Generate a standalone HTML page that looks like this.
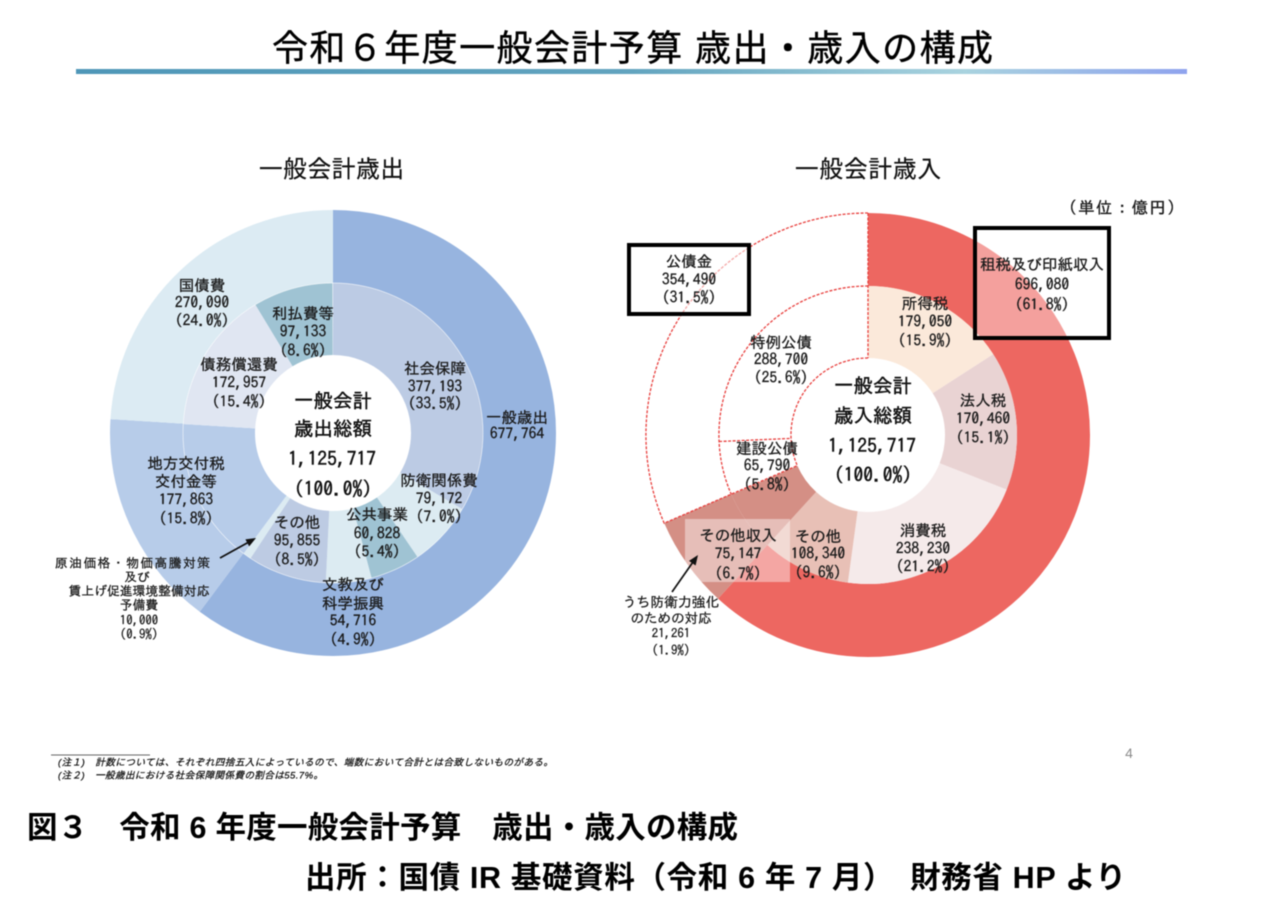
<!DOCTYPE html>
<html lang="ja">
<head>
<meta charset="utf-8">
<style>
html,body{margin:0;padding:0;background:#fff;width:1280px;height:908px;overflow:hidden}
svg{display:block;filter:blur(.55px)}
text{dominant-baseline:central;text-anchor:middle;fill:#1a1a1a;stroke:#1a1a1a;stroke-width:.3px;font-family:"IPAGothic","Noto Sans CJK JP",sans-serif;font-size:15.5px}
.c{font-size:19.5px;fill:#111;stroke:#111;stroke-width:.45px}
.s{font-size:12.8px;stroke-width:.25px}
.h{font-family:"Liberation Sans","Noto Sans CJK JP",sans-serif;font-size:23.5px;fill:#111;stroke:#111;stroke-width:.25px}
.t{font-family:"Liberation Sans","Noto Sans CJK JP",sans-serif;font-size:36px;fill:#000;stroke:#000;stroke-width:.4px;text-anchor:start}
.b{font-family:"Liberation Sans","Noto Sans CJK JP",sans-serif;font-weight:700;font-size:30.5px;fill:#000;stroke:none;text-anchor:start}
.n{font-family:"Liberation Sans","Noto Sans CJK JP",sans-serif;font-size:9.5px;font-style:italic;fill:#111;stroke:#111;stroke-width:.25px;text-anchor:start}
.d{fill:none;stroke:#e8413f;stroke-width:1.3;stroke-dasharray:3 1.5}
circle{fill:none}
</style>
</head>
<body>
<svg width="1280" height="908" viewBox="0 0 1280 908" xmlns="http://www.w3.org/2000/svg">
<defs>
<linearGradient id="g" x1="0" x2="1" y1="0" y2="0">
<stop offset="0" stop-color="#4f97b8"/>
<stop offset=".5" stop-color="#62a4bf"/>
<stop offset=".8" stop-color="#a9d3df"/>
<stop offset="1" stop-color="#8fa3ee"/>
</linearGradient>
</defs>

<text class="t" x="272" y="48" textLength="721" lengthAdjust="spacing">令和６年度一般会計予算 歳出・歳入の構成</text>
<rect x="76" y="69" width="1111" height="5" fill="url(#g)"/>

<text class="h" x="331.500" y="169" textLength="145" lengthAdjust="spacing">一般会計歳出</text>
<text class="h" x="868" y="169" textLength="146" lengthAdjust="spacing">一般会計歳入</text>

<!-- Left chart -->
<g transform="rotate(-90 333 433)">
<g stroke-width="73">
<circle cx="333" cy="433" r="186.5" pathLength="360" stroke="#97b4df" stroke-dasharray="216.7 360" stroke-dashoffset="0"/>
<circle cx="333" cy="433" r="186.5" pathLength="360" stroke="#b7cce9" stroke-dasharray="56.9 360" stroke-dashoffset="-216.7"/>
<circle cx="333" cy="433" r="186.5" pathLength="360" stroke="#dcebf3" stroke-dasharray="86.4 360" stroke-dashoffset="-273.6"/>
</g>
<g stroke-width="72">
<circle cx="333" cy="433" r="114" pathLength="360" stroke="#bccbe4" stroke-dasharray="120.6 360" stroke-dashoffset="0"/>
<circle cx="333" cy="433" r="114" pathLength="360" stroke="#dcebf2" stroke-dasharray="25.2 360" stroke-dashoffset="-120.6"/>
<circle cx="333" cy="433" r="114" pathLength="360" stroke="#9fc3d3" stroke-dasharray="19.4 360" stroke-dashoffset="-145.8"/>
<circle cx="333" cy="433" r="114" pathLength="360" stroke="#dcebf2" stroke-dasharray="17.7 360" stroke-dashoffset="-165.2"/>
<circle cx="333" cy="433" r="114" pathLength="360" stroke="#bdcbe3" stroke-dasharray="30.6 360" stroke-dashoffset="-182.9"/>
<circle cx="333" cy="433" r="114" pathLength="360" stroke="#dcebf2" stroke-dasharray="3.2 360" stroke-dashoffset="-213.5"/>
<circle cx="333" cy="433" r="114" pathLength="360" stroke="#b7cce9" stroke-dasharray="56.9 360" stroke-dashoffset="-216.7"/>
<circle cx="333" cy="433" r="114" pathLength="360" stroke="#e0e6f2" stroke-dasharray="55.4 360" stroke-dashoffset="-273.6"/>
<circle cx="333" cy="433" r="114" pathLength="360" stroke="#9fc3d3" stroke-dasharray="31 360" stroke-dashoffset="-329"/>
</g>
</g>
<circle cx="333" cy="433" r="150" stroke="#fff" stroke-width=".7" opacity=".7"/>
<line x1="220" y1="558" x2="248" y2="542.500" stroke="#111" stroke-width="1.700"/>
<polygon points="256,538 249.200,546.400 245.400,539.400" fill="#111"/>

<!-- Right chart -->
<g transform="rotate(-90 868 435)">
<g stroke-width="73">
<circle cx="868" cy="435" r="185.5" pathLength="360" stroke="#ed6761" stroke-dasharray="222.5 360" stroke-dashoffset="0"/>
<circle cx="868" cy="435" r="185.5" pathLength="360" stroke="#d48f85" stroke-dasharray="24.1 360" stroke-dashoffset="-222.5"/>
</g>
<g stroke-width="72">
<circle cx="868" cy="435" r="113" pathLength="360" stroke="#fbe9da" stroke-dasharray="57.2 360" stroke-dashoffset="0"/>
<circle cx="868" cy="435" r="113" pathLength="360" stroke="#e9d3d3" stroke-dasharray="54.4 360" stroke-dashoffset="-57.2"/>
<circle cx="868" cy="435" r="113" pathLength="360" stroke="#f5eaea" stroke-dasharray="76.3 360" stroke-dashoffset="-111.6"/>
<circle cx="868" cy="435" r="113" pathLength="360" stroke="#e8c0b6" stroke-dasharray="34.6 360" stroke-dashoffset="-187.9"/>
<circle cx="868" cy="435" r="113" pathLength="360" stroke="#d48f85" stroke-dasharray="24.1 360" stroke-dashoffset="-222.5"/>
</g>
</g>
<path class="d" d="M868 213A222 222 0 0 0 664.200 523.200L731.200 494.200L797.300 465.600"/>
<path class="d" d="M868 286A149 149 0 0 0 731.200 494.200"/>
<path class="d" d="M868 358A77 77 0 0 0 797.300 465.600"/>
<path class="d" d="M868 213V358"/>
<path class="d" d="M719.100 441.500L791.100 438.400"/>
<rect x="685" y="519" width="105" height="63" fill="#fff" opacity=".42"/>
<rect x="975" y="228" width="134" height="110" fill="#fff" fill-opacity=".38" stroke="#000" stroke-width="4"/>
<rect x="629" y="245" width="120" height="69" fill="#fff" fill-opacity=".55" stroke="#000" stroke-width="4"/>
<line x1="672" y1="592" x2="693" y2="562" stroke="#111" stroke-width="1.700"/>
<polygon points="698,555 695.600,565.500 689,560.900" fill="#111"/>

<!-- Left labels -->
<text x="202" y="285">国債費</text><text x="202" y="302">270,090</text><text x="202" y="320">(24.0%)</text>
<text x="303" y="313">利払費等</text><text x="303" y="331">97,133</text><text x="303" y="350">(8.6%)</text>
<text x="239" y="364">債務償還費</text><text x="239" y="382">172,957</text><text x="239" y="401">(15.4%)</text>
<text x="435" y="368">社会保障</text><text x="435" y="386">377,193</text><text x="435" y="403">(33.5%)</text>
<text x="517" y="417">一般歳出</text><text x="517" y="433">677,764</text>
<text class="c" x="333" y="401">一般会計</text><text class="c" x="333" y="429">歳出総額</text><text class="c" x="332" y="459" textLength="88" lengthAdjust="spacing">1,125,717</text><text class="c" x="333" y="489">(100.0%)</text>
<text x="439" y="480">防衛関係費</text><text x="439" y="498">79,172</text><text x="439" y="516">(7.0%)</text>
<text x="377" y="514">公共事業</text><text x="377" y="533">60,828</text><text x="377" y="551">(5.4%)</text>
<text x="353" y="584">文教及び</text><text x="353" y="603">科学振興</text><text x="353" y="620">54,716</text><text x="353" y="639">(4.9%)</text>
<text x="297" y="522">その他</text><text x="297" y="540">95,855</text><text x="297" y="559">(8.5%)</text>
<text x="186" y="463">地方交付税</text><text x="186" y="481">交付金等</text><text x="186" y="499">177,863</text><text x="186" y="518">(15.8%)</text>
<text class="s" x="132.500" y="563" textLength="155" lengthAdjust="spacing">原油価格・物価高騰対策</text><text class="s" x="137" y="577">及び</text><text class="s" x="139" y="591">賃上げ促進環境整備対応</text><text class="s" x="139" y="605">予備費</text><text class="s" x="139" y="620">10,000</text><text class="s" x="139" y="634">(0.9%)</text>

<!-- Right labels -->
<text x="1122" y="207" textLength="107" lengthAdjust="spacing" style="font-size:16.5px">(単位：億円)</text>
<text x="689" y="261">公債金</text><text x="689" y="279">354,490</text><text x="689" y="297">(31.5%)</text>
<text x="1042" y="264">租税及び印紙収入</text><text x="1042" y="284">696,080</text><text x="1042" y="304">(61.8%)</text>
<text x="925" y="303">所得税</text><text x="925" y="321">179,050</text><text x="925" y="340">(15.9%)</text>
<text x="781" y="342">特例公債</text><text x="781" y="359">288,700</text><text x="781" y="377">(25.6%)</text>
<text x="983" y="400">法人税</text><text x="983" y="418">170,460</text><text x="983" y="437">(15.1%)</text>
<text class="c" x="873" y="386">一般会計</text><text class="c" x="873" y="416">歳入総額</text><text class="c" x="872" y="446" textLength="88" lengthAdjust="spacing">1,125,717</text><text class="c" x="873" y="475">(100.0%)</text>
<text x="767" y="448">建設公債</text><text x="767" y="465">65,790</text><text x="767" y="484">(5.8%)</text>
<text x="923" y="530">消費税</text><text x="923" y="548">238,230</text><text x="923" y="566">(21.2%)</text>
<text x="738" y="535">その他収入</text><text x="738" y="553">75,147</text><text x="738" y="573">(6.7%)</text>
<text x="818" y="536">その他</text><text x="818" y="553">108,340</text><text x="818" y="572">(9.6%)</text>
<text class="s" x="671" y="602" style="font-size:13.8px">うち防衛力強化</text><text class="s" x="671" y="618" style="font-size:13.5px">のための対応</text><text class="s" x="671" y="633">21,261</text><text class="s" x="671" y="650">(1.9%)</text>

<!-- Footer -->
<line x1="51" y1="755" x2="150" y2="755" stroke="#333" stroke-width=".8"/>
<text class="n" x="58" y="763" textLength="495" lengthAdjust="spacing">(注１)　計数については、それぞれ四捨五入によっているので、端数において合計とは合致しないものがある。</text>
<text class="n" x="58" y="776" textLength="265" lengthAdjust="spacing">(注２)　一般歳出における社会保障関係費の割合は55.7%。</text>
<text x="1129" y="753" style="font-family:'Liberation Sans',sans-serif;font-size:14px;fill:#8a8a8a;stroke:none">4</text>
<text class="b" x="27" y="828" textLength="711" lengthAdjust="spacing">図３　令和 6 年度一般会計予算　歳出・歳入の構成</text>
<text class="b" x="305" y="878" textLength="821" lengthAdjust="spacing">出所：国債 IR 基礎資料（令和 6 年 7 月）　財務省 HP より</text>
</svg>
</body>
</html>
